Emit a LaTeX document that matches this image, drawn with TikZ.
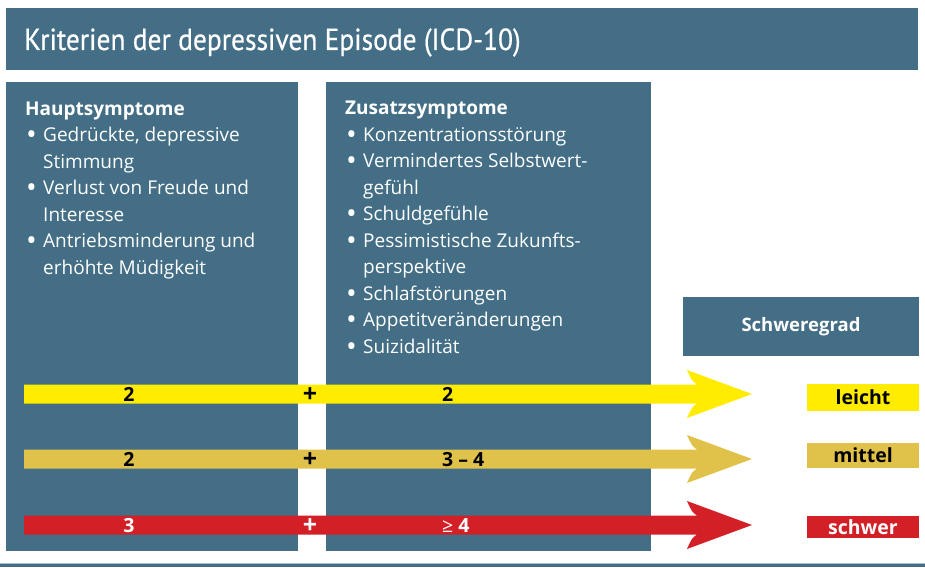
\documentclass[tikz,border=0pt]{standalone}
\usepackage{fontspec}
\setmainfont{Open Sans}
\newfontfamily\titlefont[FakeStretch=0.9,FakeBold=0.5]{PT Sans}
\usetikzlibrary{positioning,calc}
\definecolor{icdslate}{HTML}{436E85}
\definecolor{icdyellow}{HTML}{FFEC00}
\definecolor{icdmustard}{HTML}{E0C24B}
\definecolor{icdred}{HTML}{D31F26}
\newcommand{\bul}{\makebox[18pt][l]{\hspace*{1pt}\raisebox{-0.16em}{\scalebox{1.5}{\textbullet}}}}
\newcommand{\ind}{\hspace*{18pt}}

\begin{document}
\begin{tikzpicture}[x=1pt,y=-1pt,
    panel/.style={fill=icdslate, draw=none, inner sep=0pt, outer sep=0pt, anchor=north west},
    listtext/.style={text=white, font=\fontsize{19}{26.5}\selectfont, align=left, anchor=base west, inner sep=0pt},
    barlabel/.style={font=\fontsize{19.5}{22}\selectfont\bfseries, inner sep=0pt, anchor=base},
    gradebox/.style={inner sep=0pt, outer sep=0pt, minimum width=112pt, anchor=north west,
        font=\fontsize{19.5}{22}\selectfont\bfseries}]
    \useasboundingbox (0,0) rectangle (925,567);

    % Panels
    \node[panel, minimum width=912pt, minimum height=62pt] (title) at (6,8) {};
    \node[panel, minimum width=292pt, minimum height=469pt] (haupt) at (6,82) {};
    \node[panel, minimum width=325pt, minimum height=469pt] (zusatz) at (326,82) {};
    \node[panel, minimum width=236pt, minimum height=59pt] (grad) at (683,297) {};
    \fill[icdslate] (0,563) rectangle (925,567);
    \draw[icdslate!45, line width=0.8pt] (0,563.4) -- (925,563.4);

    % Texts (anchored at the baseline of the last line)
    \node[text=white, font=\titlefont\fontsize{30.5}{32}\selectfont, anchor=base west, inner sep=0pt]
        (titletext) at (24,50) {Kriterien der depressiven Episode (ICD-10)};
    \node[listtext] (hauptlist) at (25,274) {\textbf{Hauptsymptome}\\
        \bul Gedrückte, depressive\\ \ind Stimmung\\
        \bul Verlust von Freude und\\ \ind Interesse\\
        \bul Antriebsminderung und\\ \ind erhöhte Müdigkeit};
    \node[listtext] (zusatzlist) at (345,353) {\textbf{Zusatzsymptome}\\
        \bul Konzentrationsstörung\\
        \bul Vermindertes Selbstwert-\\ \ind gefühl\\
        \bul Schuldgefühle\\
        \bul Pessimistische Zukunfts-\\ \ind perspektive\\
        \bul Schlafstörungen\\
        \bul Appetitveränderungen\\
        \bul Suizidalität};
    \node[text=white, font=\fontsize{18.5}{22}\selectfont\bfseries, inner sep=0pt]
        (gradtext) at (grad.center) {Schweregrad};

    % Arrows and grades
    \foreach \y/\col/\ink/\nh/\nz/\ya/\yb/\grade [count=\i] in
        {394/icdyellow/black/2/2/384/411/leicht,
         459/icdmustard/black/2/3 -- 4/443/468/mittel,
         525/icdred/white/3/{\mdseries ≥} 4/516/538/schwer} {
        \coordinate (start\i) at (24,\y);
        \coordinate (tip\i) at (752,\y);
        \fill[\col] (start\i) ++(0,-9.5) -- (697,\y-9.5)
            .. controls (692,\y-13) .. (687,\y-24) -- (tip\i) -- (687,\y+24)
            .. controls (692,\y+13) .. (697,\y+9.5) -- (24,\y+9.5) -- cycle;
        \node[barlabel, text=\ink] (nh\i) at (129,\y+7) {\nh};
        \node[barlabel, text=\ink, font=\fontsize{25}{26}\selectfont\bfseries] (plus\i) at (310,\y+8) {+};
        \node[barlabel, text=\ink, anchor=base west] (nz\i) at (442,\y+7) {\nz};
        \node[gradebox, fill=\col, minimum height=\yb-\ya] (box\i) at (807,\ya) {};
        \node[barlabel, text=\ink, anchor=center] (grade\i) at (box\i.center) {\grade};
    }
\end{tikzpicture}
\end{document}
